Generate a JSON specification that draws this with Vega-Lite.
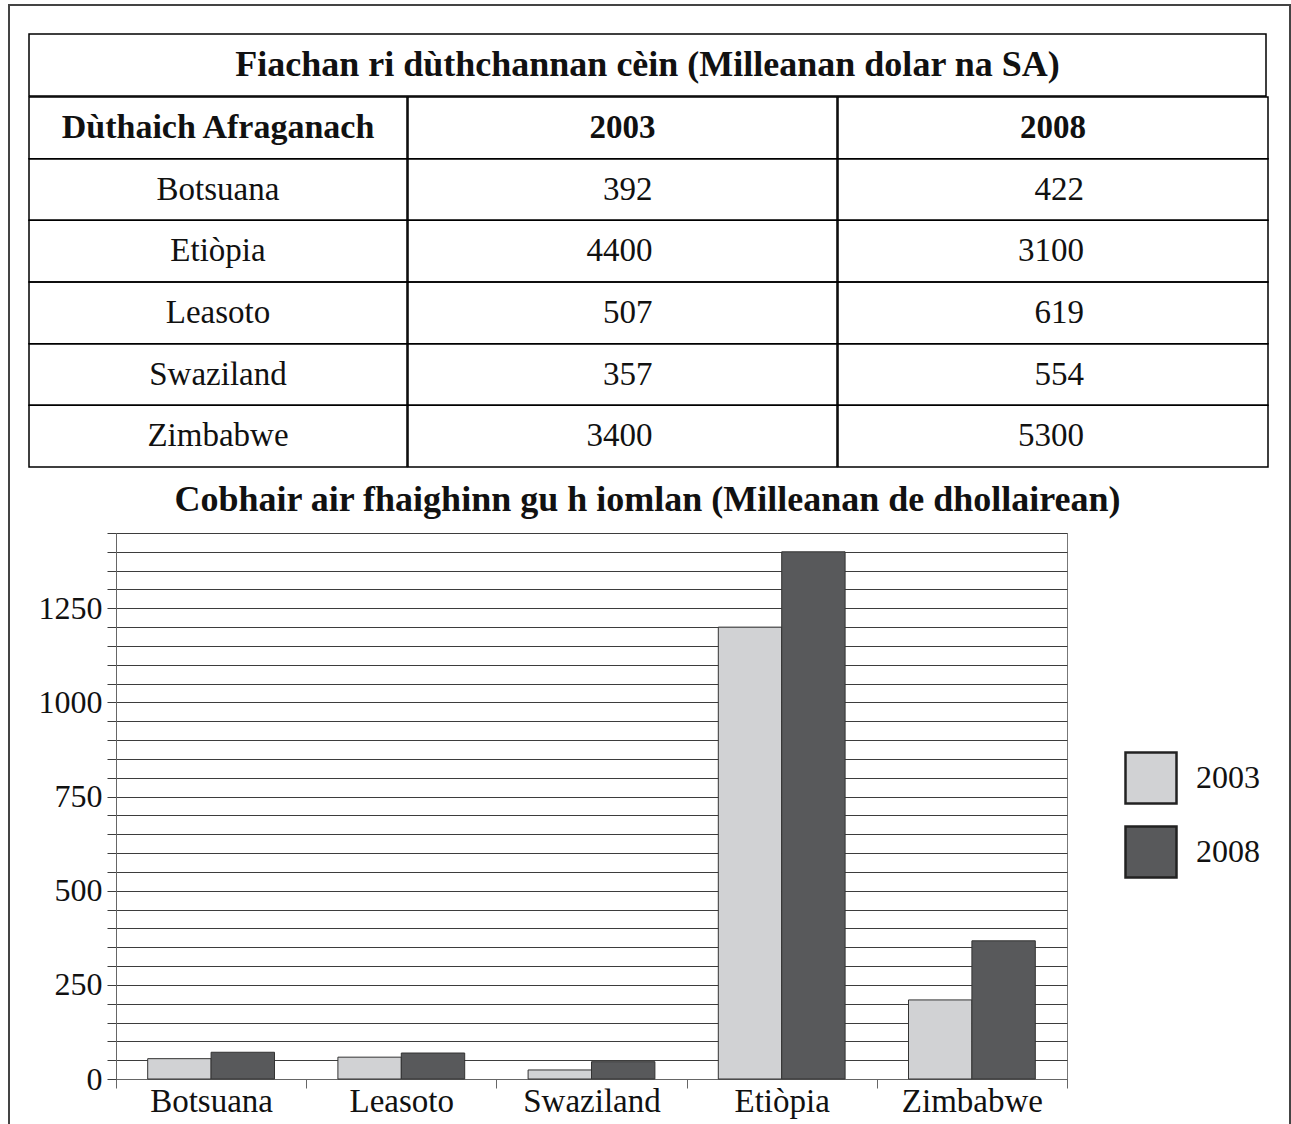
{
  "$schema": "https://vega.github.io/schema/vega-lite/v6.json",
  "padding": {"left": 8, "top": 4, "right": 0, "bottom": 0},
  "background": "white",
  "datasets": {
    "blank": [{"k": 1}],
    "tabletitle": [{"t": "Fiachan ri dùthchannan cèin (Milleanan dolar na SA)"}],
    "table": [
      {"row": 0, "c1": "Dùthaich Afraganach", "c2": "2003", "c3": "2008"},
      {"row": 1, "c1": "Botsuana", "c2": "392", "c3": "422"},
      {"row": 2, "c1": "Etiòpia", "c2": "4400", "c3": "3100"},
      {"row": 3, "c1": "Leasoto", "c2": "507", "c3": "619"},
      {"row": 4, "c1": "Swaziland", "c2": "357", "c3": "554"},
      {"row": 5, "c1": "Zimbabwe", "c2": "3400", "c3": "5300"}
    ],
    "aid": [
      {"country": "Botsuana", "year": "2003", "value": 54},
      {"country": "Botsuana", "year": "2008", "value": 71},
      {"country": "Leasoto", "year": "2003", "value": 58},
      {"country": "Leasoto", "year": "2008", "value": 69},
      {"country": "Swaziland", "year": "2003", "value": 24},
      {"country": "Swaziland", "year": "2008", "value": 46},
      {"country": "Etiòpia", "year": "2003", "value": 1200},
      {"country": "Etiòpia", "year": "2008", "value": 1400},
      {"country": "Zimbabwe", "year": "2003", "value": 210},
      {"country": "Zimbabwe", "year": "2008", "value": 367}
    ]
  },
  "config": {
    "font": "Liberation Serif",
    "view": {"stroke": null}
  },
  "spacing": 0,
  "vconcat": [
    {
      "width": 1283, "height": 2,
      "data": {"name": "blank"},
      "mark": {"type": "rect", "opacity": 0},
      "encoding": {},
      "view": {"fill": "#444", "stroke": null}
    },
    {
      "spacing": 18,
      "hconcat": [
        {
          "width": 2, "height": 1120,
          "data": {"name": "blank"},
          "mark": {"type": "rect", "opacity": 0},
          "encoding": {},
          "view": {"fill": "#444", "stroke": null}
        },
        {
          "spacing": 20,
          "hconcat": [
            {
              "spacing": 26,
              "vconcat": [
                {
                  "width": 1, "height": 1,
                  "data": {"name": "blank"},
                  "mark": {"type": "rect", "opacity": 0},
                  "encoding": {}
                },
                {
                  "spacing": 13,
                  "vconcat": [
                    {
                      "spacing": -2,
                      "vconcat": [
                        {
                          "width": 1237, "height": 62,
                          "data": {"name": "tabletitle"},
                          "layer": [
                            {
                              "mark": {"type": "rect", "filled": false, "stroke": "#000", "strokeWidth": 1.5},
                              "encoding": {"y": {"field": "t", "type": "nominal", "scale": {"paddingInner": 0, "paddingOuter": 0}, "axis": null}}
                            },
                            {
                              "mark": {"type": "text", "fontSize": 36, "fontWeight": "bold", "align": "center", "baseline": "middle", "color": "#111"},
                              "encoding": {"y": {"field": "t", "type": "nominal", "axis": null}, "text": {"field": "t"}}
                            }
                          ]
                        },
                        {
                          "spacing": -3,
                          "hconcat": [
                            {
                              "width": 378, "height": 370,
                              "data": {"name": "table"},
                              "layer": [
                                {
                                  "mark": {"type": "rect", "filled": false, "stroke": "#000", "strokeWidth": 1.5},
                                  "encoding": {"y": {"field": "row", "type": "ordinal", "scale": {"paddingInner": 0, "paddingOuter": 0}, "axis": null}}
                                },
                                {
                                  "transform": [{"filter": "datum.row > 0"}],
                                  "mark": {"type": "text", "fontSize": 33, "align": "center", "baseline": "middle", "color": "#111"},
                                  "encoding": {"y": {"field": "row", "type": "ordinal", "axis": null}, "text": {"field": "c1"}}
                                },
                                {
                                  "transform": [{"filter": "datum.row == 0"}],
                                  "mark": {"type": "text", "fontSize": 34, "fontWeight": "bold", "align": "center", "baseline": "middle", "color": "#111"},
                                  "encoding": {"y": {"field": "row", "type": "ordinal", "axis": null}, "text": {"field": "c1"}}
                                }
                              ]
                            },
                            {
                              "width": 429, "height": 370,
                              "data": {"name": "table"},
                              "layer": [
                                {
                                  "mark": {"type": "rect", "filled": false, "stroke": "#000", "strokeWidth": 1.5},
                                  "encoding": {"y": {"field": "row", "type": "ordinal", "scale": {"paddingInner": 0, "paddingOuter": 0}, "axis": null}}
                                },
                                {
                                  "transform": [{"filter": "datum.row > 0"}],
                                  "mark": {"type": "text", "fontSize": 33, "align": "right", "dx": 30, "baseline": "middle", "color": "#111"},
                                  "encoding": {"y": {"field": "row", "type": "ordinal", "axis": null}, "text": {"field": "c2"}}
                                },
                                {
                                  "transform": [{"filter": "datum.row == 0"}],
                                  "mark": {"type": "text", "fontSize": 33, "fontWeight": "bold", "align": "center", "baseline": "middle", "color": "#111"},
                                  "encoding": {"y": {"field": "row", "type": "ordinal", "axis": null}, "text": {"field": "c2"}}
                                }
                              ]
                            },
                            {
                              "width": 430, "height": 370,
                              "data": {"name": "table"},
                              "layer": [
                                {
                                  "mark": {"type": "rect", "filled": false, "stroke": "#000", "strokeWidth": 1.5},
                                  "encoding": {"y": {"field": "row", "type": "ordinal", "scale": {"paddingInner": 0, "paddingOuter": 0}, "axis": null}}
                                },
                                {
                                  "transform": [{"filter": "datum.row > 0"}],
                                  "mark": {"type": "text", "fontSize": 33, "align": "right", "dx": 31, "baseline": "middle", "color": "#111"},
                                  "encoding": {"y": {"field": "row", "type": "ordinal", "axis": null}, "text": {"field": "c3"}}
                                },
                                {
                                  "transform": [{"filter": "datum.row == 0"}],
                                  "mark": {"type": "text", "fontSize": 33, "fontWeight": "bold", "align": "center", "baseline": "middle", "color": "#111"},
                                  "encoding": {"y": {"field": "row", "type": "ordinal", "axis": null}, "text": {"field": "c3"}}
                                }
                              ]
                            }
                          ]
                        }
                      ]
                    },
                    {
                      "spacing": -2,
                      "hconcat": [
                        {
                          "width": 1, "height": 1,
                          "data": {"name": "blank"},
                          "mark": {"type": "rect", "opacity": 0},
                          "encoding": {}
                        },
                        {
                          "width": 951, "height": 546,
                          "data": {"name": "aid"},
                          "title": {"text": "Cobhair air fhaighinn gu h iomlan (Milleanan de dhollairean)", "fontSize": 36, "fontWeight": "bold", "anchor": "middle", "frame": "group", "dx": 56, "offset": 14, "color": "#111"},
                          "view": {"stroke": "#777", "strokeWidth": 1},
                          "mark": {"type": "bar", "stroke": "#333", "strokeWidth": 1},
                          "encoding": {
                            "x": {
                              "field": "country", "type": "nominal",
                              "sort": ["Botsuana", "Leasoto", "Swaziland", "Etiòpia", "Zimbabwe"],
                              "scale": {"paddingInner": 0, "paddingOuter": 0},
                              "axis": {"title": null, "labelAngle": 0, "tickBand": "extent", "tickSize": 9, "tickColor": "#666", "domainColor": "#666", "labelFontSize": 33, "labelColor": "#111", "labelPadding": -3, "grid": false}
                            },
                            "xOffset": {"field": "year", "type": "nominal", "scale": {"paddingInner": 0, "paddingOuter": 0.5}},
                            "y": {
                              "field": "value", "type": "quantitative",
                              "scale": {"domain": [0, 1450], "nice": false},
                              "axis": {
                                "title": null,
                                "format": "d",
                                "values": [0, 50, 100, 150, 200, 250, 300, 350, 400, 450, 500, 550, 600, 650, 700, 750, 800, 850, 900, 950, 1000, 1050, 1100, 1150, 1200, 1250, 1300, 1350, 1400, 1450],
                                "labelExpr": "datum.value % 250 === 0 ? datum.label : ''",
                                "grid": true, "gridColor": "#3d3d3d", "gridOpacity": 1, "gridWidth": 1,
                                "tickSize": 9, "tickColor": "#3d3d3d", "domainColor": "#666",
                                "labelFontSize": 32, "labelPadding": 5, "labelColor": "#111",
                                "minExtent": 87, "maxExtent": 87
                              }
                            },
                            "color": {
                              "field": "year", "type": "nominal",
                              "scale": {"domain": ["2003", "2008"], "range": ["#d1d2d4", "#58595b"]},
                              "legend": {"title": null, "orient": "none", "legendX": 1116, "legendY": 747, "symbolType": "square", "symbolSize": 2601, "symbolStrokeColor": "#222", "symbolStrokeWidth": 2.5, "labelFontSize": 32, "labelOffset": 18, "rowPadding": 12, "labelColor": "#111", "padding": 0}
                            }
                          }
                        }
                      ]
                    }
                  ]
                }
              ]
            },
            {
              "width": 2, "height": 1120,
              "data": {"name": "blank"},
              "mark": {"type": "rect", "opacity": 0},
              "encoding": {},
              "view": {"fill": "#444", "stroke": null}
            }
          ]
        }
      ]
    }
  ]
}
